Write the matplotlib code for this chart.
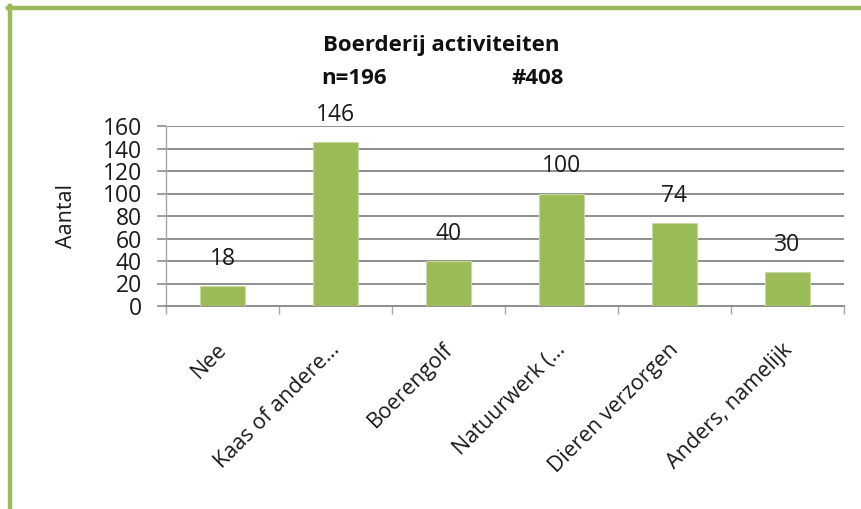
import matplotlib
matplotlib.use("Agg")
import matplotlib.pyplot as plt
import matplotlib.transforms as mtransforms
from matplotlib.lines import Line2D
import numpy as np

# data
categories = ["Nee", "Kaas of andere…", "Boerengolf", "Natuurwerk (…",
              "Dieren verzorgen", "Anders, namelijk"]
counts = [18, 146, 40, 100, 74, 30]
y_ticks = [0, 20, 40, 60, 80, 100, 120, 140, 160]

green = "#9BBB59"
grid_grey = "#8E8E8E"
text_col = "#1a1a1a"

plt.rcParams['font.family'] = ['Open Sans', 'DejaVu Sans']

fig = plt.figure(figsize=(8.61, 5.09), dpi=100)
fig.patch.set_facecolor("white")

# plot area placed in pixel terms of the 861x509 picture
W, H = 861.0, 509.0
ax = fig.add_axes([166 / W, 1 - 306 / H, (844 - 166) / W, (306 - 126) / H])

x = np.arange(len(categories))
ax.bar(x, counts, width=0.4, color=green, edgecolor="#C6D9A0", linewidth=0.8, zorder=3)

for xi, v in zip(x, counts):
    ax.annotate(str(v), (xi, v), xytext=(0, 27), textcoords="offset pixels",
                ha="center", va="center", fontsize=16.5, color=text_col)

ax.set_xlim(-0.5, len(categories) - 0.5)
ax.set_ylim(0, 160)
ax.set_yticks(y_ticks)
ax.yaxis.grid(True, color=grid_grey, linewidth=1.4, zorder=0)
ax.set_axisbelow(True)
ax.tick_params(axis="y", length=6.5, width=1.2, color=grid_grey, labelsize=16.5,
               pad=11, labelcolor=text_col)
ax.set_ylabel("Aantal", fontsize=15.5, color=text_col, labelpad=18)

# category labels at the centres, tick marks at the boundaries
ax.set_xticks(x)
ax.set_xticklabels(categories, rotation=45, ha="right", rotation_mode="anchor",
                   fontsize=15.5, color=text_col)
ax.tick_params(axis="x", which="major", length=0, pad=24)
shift = mtransforms.ScaledTranslation(-6 / 100, 0, fig.dpi_scale_trans)
for lab in ax.get_xticklabels():
    lab.set_transform(lab.get_transform() + shift)
ax.set_xticks(np.arange(len(categories) + 1) - 0.5, minor=True)
ax.tick_params(axis="x", which="minor", length=6, width=1.0, color="#A6A6A6")

for side in ["top", "right"]:
    ax.spines[side].set_visible(False)
ax.spines["left"].set_color("#A6A6A6")
ax.spines["left"].set_linewidth(1.0)
ax.spines["bottom"].set_color(grid_grey)
ax.spines["bottom"].set_linewidth(1.4)

# titles
fig.text(441 / W, 1 - 45 / H, "Boerderij activiteiten", ha="center", va="center",
         fontsize=16, fontweight="bold", color="#111111")
fig.text(354 / W, 1 - 78 / H, "n=196", ha="center", va="center",
         fontsize=16, fontweight="bold", color="#111111")
fig.text(538 / W, 1 - 78 / H, "#408", ha="center", va="center",
         fontsize=16, fontweight="bold", color="#111111")

# green frame around the chart (top and left edges visible)
fig.add_artist(Line2D([8 / W, 1.0], [1 - 7.5 / H, 1 - 7.5 / H], color=green,
                      linewidth=3.2, transform=fig.transFigure))
fig.add_artist(Line2D([10 / W, 10 / W], [0.0, 1 - 6 / H], color=green,
                      linewidth=3.2, transform=fig.transFigure))

fig.savefig("out.png", dpi=100, facecolor=fig.get_facecolor())
